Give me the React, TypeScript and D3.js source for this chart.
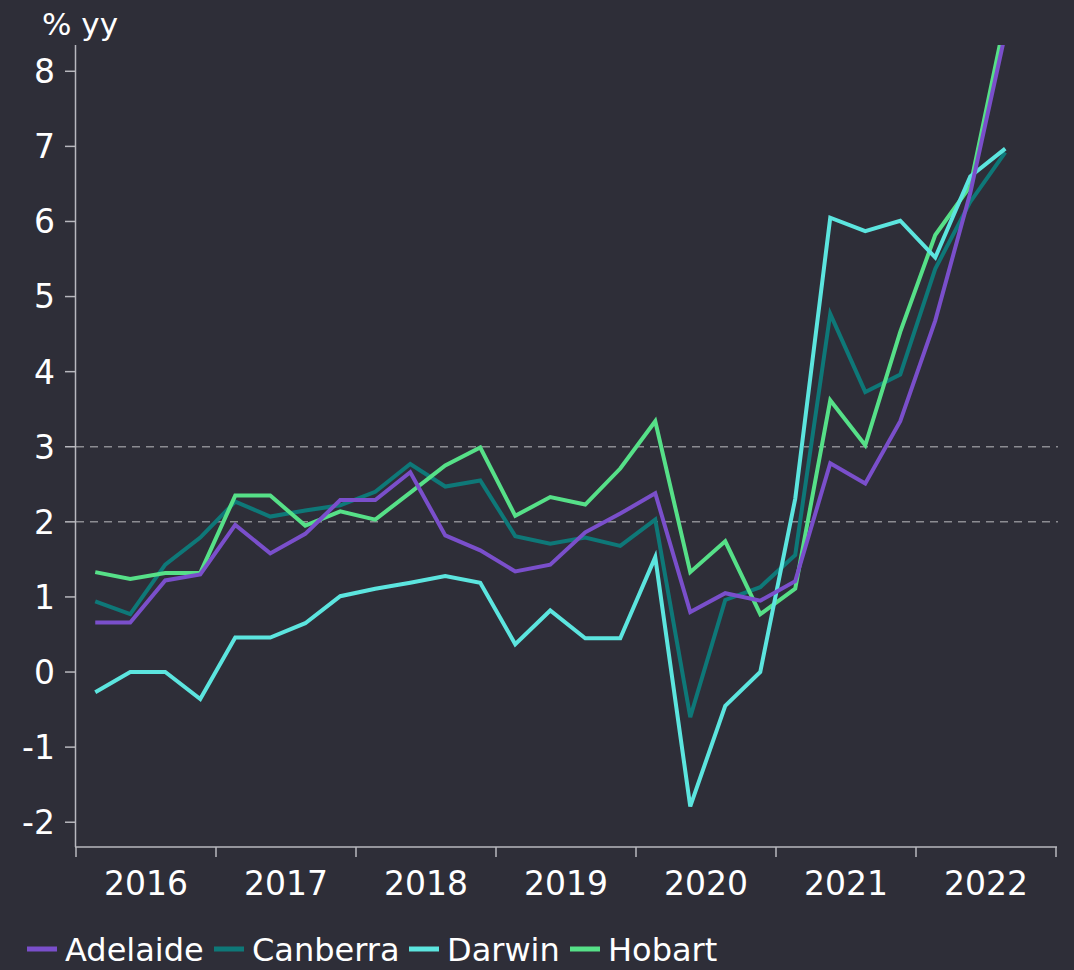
import React from "react";
import * as d3 from "d3";

const years = ["2016", "2017", "2018", "2019", "2020", "2021", "2022"];
const yTicks = [-2, -1, 0, 1, 2, 3, 4, 5, 6, 7, 8];
const gridValues = [2, 3];

// Quarterly, 2016 Q1 .. 2022 Q3
const adelaide = [0.66, 0.66, 1.22, 1.3, 1.96, 1.58, 1.84, 2.29, 2.29, 2.66, 1.82, 1.62, 1.34, 1.43, 1.86, 2.11, 2.38, 0.8, 1.05, 0.95, 1.21, 2.78, 2.51, 3.34, 4.68, 6.38, 8.5];
const canberra = [0.94, 0.77, 1.43, 1.79, 2.27, 2.07, 2.15, 2.22, 2.4, 2.77, 2.47, 2.55, 1.81, 1.71, 1.79, 1.68, 2.03, -0.6, 0.96, 1.13, 1.56, 4.77, 3.73, 3.96, 5.37, 6.26, 6.92];
const darwin = [-0.27, 0.0, 0.0, -0.36, 0.46, 0.46, 0.65, 1.01, 1.11, 1.19, 1.28, 1.19, 0.37, 0.82, 0.45, 0.45, 1.53, -1.79, -0.45, 0.0, 2.31, 6.05, 5.87, 6.01, 5.52, 6.6, 6.97];
const hobart = [1.33, 1.24, 1.32, 1.32, 2.35, 2.35, 1.95, 2.14, 2.03, 2.39, 2.75, 2.99, 2.08, 2.33, 2.23, 2.71, 3.34, 1.33, 1.74, 0.77, 1.11, 3.62, 3.02, 4.53, 5.82, 6.47, 8.7];

const seriesNames = ["Adelaide", "Canberra", "Darwin", "Hobart"];
const seriesData = [adelaide, canberra, darwin, hobart];
const seriesColors = ["#7A4FCB", "#0E7878", "#5CE5DF", "#56E088"];
const drawOrder = [1, 3, 2, 0];

const W = 1074;
const H = 970;
const BG = "#2E2E38";
const AXIS = "#B8B8BE";
const FONT = "'DejaVu Sans', sans-serif";

export default function App() {
  const x = d3.scaleLinear().domain([0, 28]).range([76, 1056]);
  const y = d3.scaleLinear().domain([-2.33, 8.35]).range([847, 45]);
  const top = y(8.35);
  const bottom = y(-2.33);

  const line = d3
    .line<number>()
    .x((_, i) => x(i + 0.55))
    .y((d) => y(d));

  const legendX = [27, 214, 409, 570];

  return (
    <div style={{ position: "fixed", left: 0, top: 0, width: W, height: H, background: BG }}>
      <svg width={W} height={H} style={{ display: "block" }}>
        <rect x={0} y={0} width={W} height={H} fill={BG} />
        <defs>
          <clipPath id="plot">
            <rect x={76} y={top} width={1056 - 76} height={bottom - top} />
          </clipPath>
        </defs>
        {gridValues.map((g) => (
          <line key={g} x1={76} x2={1058} y1={y(g)} y2={y(g)} stroke="#8C8C92" strokeWidth={1.5} strokeDasharray="8,6" />
        ))}
        {/* y axis */}
        <line x1={75.5} x2={75.5} y1={top} y2={bottom} stroke={AXIS} strokeWidth={1.5} />
        {yTicks.map((t) => (
          <g key={t}>
            <line x1={65} x2={75.5} y1={y(t)} y2={y(t)} stroke={AXIS} strokeWidth={1.5} />
            <text x={55} y={y(t)} dy="0.36em" textAnchor="end" fill="#FFFFFF" fontFamily={FONT} fontSize={33}>
              {t}
            </text>
          </g>
        ))}
        <text x={42} y={35} fill="#FFFFFF" fontFamily={FONT} fontSize={31}>
          % yy
        </text>
        {/* x axis */}
        <line x1={75} x2={1057} y1={bottom} y2={bottom} stroke={AXIS} strokeWidth={1.5} />
        {d3.range(0, 8).map((k) => (
          <line key={k} x1={x(k * 4)} x2={x(k * 4)} y1={bottom} y2={bottom + 10} stroke={AXIS} strokeWidth={1.5} />
        ))}
        {years.map((yr, k) => (
          <text key={yr} x={x(k * 4 + 2)} y={895} textAnchor="middle" fill="#FFFFFF" fontFamily={FONT} fontSize={33}>
            {yr}
          </text>
        ))}
        {/* lines */}
        <g clipPath="url(#plot)">
          {drawOrder.map((s) => (
            <path
              key={seriesNames[s]}
              d={line(seriesData[s]) || ""}
              fill="none"
              stroke={seriesColors[s]}
              strokeWidth={4}
              strokeLinejoin="miter"
            />
          ))}
        </g>
        {/* legend */}
        {seriesNames.map((n, i) => (
          <g key={n}>
            <line x1={legendX[i]} x2={legendX[i] + 30} y1={949} y2={949} stroke={seriesColors[i]} strokeWidth={5} />
            <text x={legendX[i] + 38} y={961} fill="#FFFFFF" fontFamily={FONT} fontSize={32}>
              {n}
            </text>
          </g>
        ))}
      </svg>
    </div>
  );
}
